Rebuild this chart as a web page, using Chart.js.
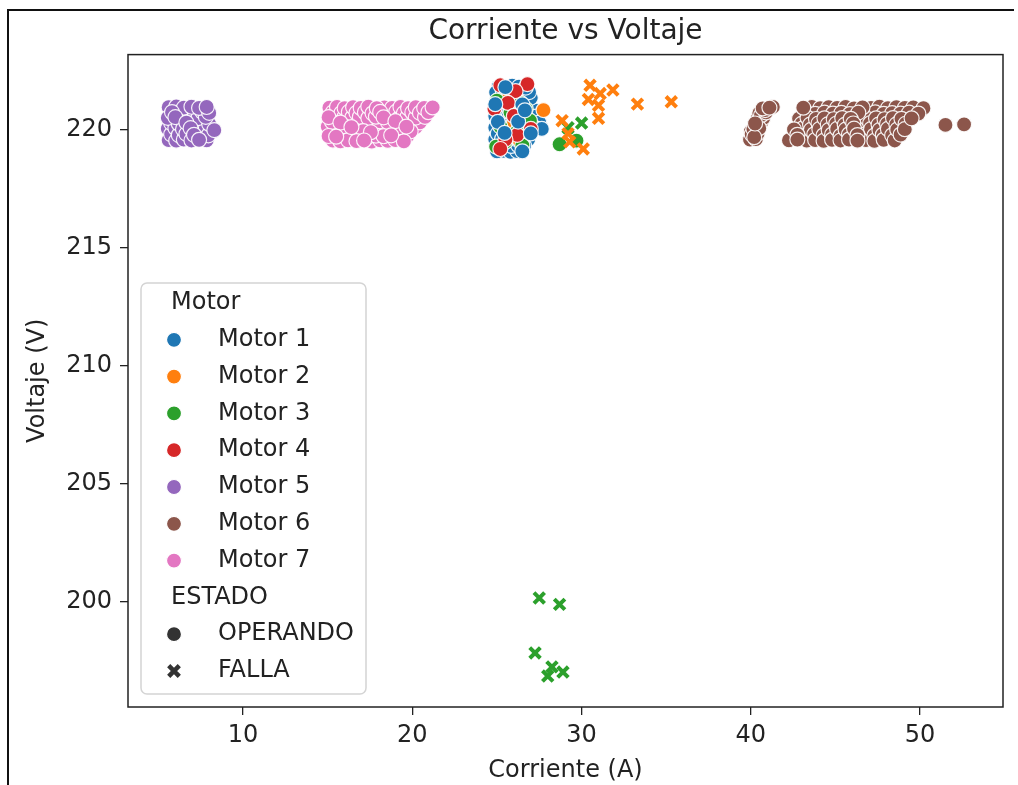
<!DOCTYPE html>
<html lang="es">
<head>
  <meta charset="UTF-8" />
  <title>Corriente vs Voltaje</title>
  <script src="https://cdn.jsdelivr.net/npm/chart.js"></script>
  <style>
    html, body { margin: 0; padding: 0; background: #fff; }
    #wrap { position: relative; width: 1018px; height: 785px; }
    #frame { position: absolute; left: 7px; top: 9px; width: 1005px; height: 790px;
             border-left: 2px solid #111; border-top: 2px solid #111; pointer-events: none; }
  </style>
</head>
<body>
<div id="wrap">
  <canvas id="chart"></canvas>
  <div id="frame"></div>
</div>

<script>
  // Tick labels
  const xTicks = [10, 20, 30, 40, 50];
  const yTicks = [200, 205, 210, 215, 220];

  // Motor names + tab10 colours
  const motors = ["Motor 1", "Motor 2", "Motor 3", "Motor 4", "Motor 5", "Motor 6", "Motor 7"];
  const colors = ["#1f77b4", "#ff7f0e", "#2ca02c", "#d62728", "#9467bd", "#8c564b", "#e377c2"];
  const estados = ["OPERANDO", "FALLA"];

  // [corriente, voltaje]
  const motor1Op = [
    [25.1,221.85],[25.5,221.82],[25.9,221.88],[26.3,221.84],[26.7,221.8],
    [24.95,221.6],[25.35,221.63],[25.75,221.57],[26.15,221.62],[26.55,221.58],[26.9,221.61],
    [25.1,221.35],[25.5,221.38],[25.9,221.32],[26.3,221.36],[26.7,221.33],[27.0,221.37],
    [24.9,221.1],[25.3,221.12],[25.7,221.08],[26.1,221.13],[26.5,221.09],[26.9,221.11],
    [25.05,220.85],[25.45,220.88],[25.85,220.83],[26.25,220.87],[26.65,220.84],[27.05,220.86],[27.35,220.82],
    [24.9,220.6],[25.3,220.62],[25.7,220.58],[26.1,220.63],[26.5,220.59],[26.9,220.61],[27.3,220.57],
    [25.05,220.35],[25.45,220.38],[25.85,220.33],[26.25,220.36],[26.65,220.34],[27.05,220.37],[27.5,220.32],
    [24.9,220.1],[25.3,220.12],[25.7,220.08],[26.1,220.13],[26.5,220.09],[26.9,220.11],[27.3,220.07],[27.65,220.05],
    [25.05,219.85],[25.45,219.88],[25.85,219.83],[26.25,219.87],[26.65,219.84],[27.0,219.86],
    [24.9,219.6],[25.3,219.62],[25.7,219.58],[26.1,219.63],[26.5,219.59],[26.85,219.61],
    [25.05,219.35],[25.45,219.38],[25.85,219.33],[26.25,219.36],[26.6,219.34],
    [25.0,219.1],[25.4,219.12],[25.8,219.08],[26.2,219.11],[26.5,219.1]
  ];
  const motor2Op = [
    [27.75,220.85],[26.0,220.3],[25.6,221.3],[26.3,219.6]
  ];
  const motor3Op = [
    [25.8,220.75],[26.7,220.9],[25.2,220.15],[26.95,220.4],[25.5,219.5],[24.95,219.3],
    [26.4,221.15],[25.0,221.25],[26.2,219.95],[26.5,219.35],
    [28.7,219.4],[29.7,219.55]
  ];
  const motor4Op = [
    [25.2,221.9],[26.8,221.95],[26.1,221.65],[25.65,221.15],[24.85,220.9],
    [26.2,219.8],[25.5,219.6],[27.0,220.05],[25.2,219.2],[26.0,220.6]
  ];
  const motor5Op = [
    [5.6,220.97],[6.05,221.0],[6.5,220.95],[6.95,220.99],[7.4,220.94],[7.85,220.98],
    [5.8,220.76],[6.25,220.72],[6.7,220.78],[7.15,220.74],[7.6,220.77],[8.0,220.73],
    [5.55,220.52],[6.0,220.55],[6.45,220.5],[6.9,220.54],[7.35,220.51],[7.8,220.56],
    [5.75,220.3],[6.2,220.27],[6.65,220.32],[7.1,220.29],[7.55,220.31],[8.0,220.26],
    [5.55,220.06],[6.0,220.09],[6.45,220.04],[6.9,220.08],[7.35,220.05],[7.8,220.07],[8.3,220.0],
    [5.75,219.82],[6.2,219.79],[6.65,219.84],[7.1,219.8],[7.55,219.83],[7.95,219.78],
    [5.6,219.58],[6.05,219.55],[6.5,219.6],[6.95,219.56],[7.4,219.59],[7.85,219.57]
  ];
  const motor6Op = [
    [39.95,219.6],[40.3,219.62],[40.05,219.82],[40.4,219.85],[40.15,220.05],[40.5,220.08],
    [40.25,220.28],[40.6,220.3],[40.4,220.5],[40.75,220.52],[40.5,220.72],[40.9,220.75],
    [40.7,220.92],[41.1,220.95],[41.3,220.98],[40.0,219.95],[40.35,220.2],[40.6,220.62],
    [40.85,220.85],[40.2,219.7],
    [43.1,220.95],[43.6,220.98],[44.1,220.93],[44.6,220.97],[45.1,220.94],[45.6,220.98],[46.1,220.92],
    [46.6,220.96],[47.1,220.94],[47.6,220.99],[48.1,220.93],[48.6,220.97],[49.1,220.94],[49.6,220.96],[50.2,220.93],
    [43.3,220.72],[43.8,220.69],[44.35,220.74],[44.85,220.7],[45.35,220.73],[45.85,220.68],[46.35,220.74],
    [46.85,220.71],[47.35,220.75],[47.85,220.69],[48.35,220.72],[48.85,220.7],[49.35,220.74],[49.9,220.7],
    [42.85,220.49],[43.35,220.52],[43.85,220.47],[44.35,220.5],[44.9,220.46],[45.4,220.51],[45.9,220.48],
    [46.4,220.52],[46.9,220.47],[47.4,220.5],[47.9,220.46],[48.4,220.51],[48.9,220.48],[49.5,220.5],
    [43.0,220.26],[43.5,220.23],[44.0,220.28],[44.55,220.24],[45.05,220.27],[45.55,220.22],[46.05,220.28],
    [46.55,220.25],[47.05,220.29],[47.55,220.23],[48.05,220.26],[48.6,220.24],[49.15,220.27],
    [42.55,220.03],[43.05,220.06],[43.55,220.01],[44.05,220.04],[44.6,220.0],[45.1,220.05],[45.6,220.02],
    [46.1,220.06],[46.6,220.01],[47.1,220.04],[47.6,220.0],[48.1,220.05],[48.65,220.02],[49.1,220.04],
    [42.75,219.8],[43.25,219.77],[43.75,219.82],[44.3,219.78],[44.8,219.81],[45.3,219.76],[45.8,219.82],
    [46.3,219.79],[46.8,219.83],[47.3,219.77],[47.8,219.8],[48.35,219.78],[48.85,219.81],
    [42.25,219.57],[42.75,219.6],[43.3,219.55],[43.8,219.58],[44.3,219.54],[44.8,219.59],[45.3,219.56],
    [45.8,219.6],[46.3,219.55],[46.8,219.58],[47.3,219.54],[47.85,219.59],[48.5,219.56],
    [51.5,220.22],[52.6,220.24]
  ];
  const motor7Op = [
    [15.1,220.95],[15.55,220.98],[16.0,220.93],[16.5,220.97],[16.95,220.94],[17.4,220.99],[17.9,220.93],
    [18.35,220.96],[18.8,220.94],[19.3,220.98],[19.75,220.93],[20.2,220.97],[20.7,220.94],[21.2,220.96],
    [15.3,220.75],[15.8,220.72],[16.25,220.77],[16.7,220.73],[17.2,220.76],[17.65,220.71],[18.1,220.77],
    [18.6,220.74],[19.05,220.78],[19.5,220.72],[20.0,220.75],[20.45,220.73],[20.95,220.76],
    [15.05,220.55],[15.5,220.52],[16.0,220.57],[16.45,220.53],[16.9,220.56],[17.4,220.51],[17.85,220.57],
    [18.3,220.54],[18.8,220.58],[19.25,220.52],[19.7,220.55],[20.2,220.53],[20.75,220.56],
    [15.25,220.35],[15.75,220.32],[16.2,220.37],[16.65,220.33],[17.15,220.36],[17.6,220.31],[18.05,220.37],
    [18.55,220.34],[19.0,220.38],[19.45,220.32],[19.95,220.35],[20.45,220.33],
    [15.0,220.15],[15.45,220.12],[15.95,220.17],[16.4,220.13],[16.85,220.16],[17.35,220.11],[17.8,220.17],
    [18.25,220.14],[18.75,220.18],[19.2,220.12],[19.65,220.15],[20.2,220.13],
    [15.2,219.95],[15.7,219.92],[16.15,219.97],[16.6,219.93],[17.1,219.96],[17.55,219.91],[18.0,219.97],
    [18.5,219.94],[18.95,219.98],[19.4,219.92],[19.9,219.95],
    [15.05,219.75],[15.5,219.72],[15.95,219.77],[16.45,219.73],[16.9,219.76],[17.35,219.71],[17.85,219.77],
    [18.3,219.74],[18.75,219.78],[19.25,219.72],[19.7,219.75],
    [15.3,219.55],[15.75,219.52],[16.2,219.57],[16.7,219.53],[17.15,219.56],[17.6,219.51],[18.1,219.57],
    [18.55,219.54],[19.0,219.58],[19.5,219.52]
  ];
  const motor2Falla = [
    [30.5,221.9],[31.85,221.7],[31.1,221.55],[30.4,221.3],[31.0,221.05],[33.3,221.1],
    [35.3,221.2],[31.0,220.5],[28.85,220.4],[29.3,219.5],[30.1,219.2],[29.2,219.85]
  ];
  const motor3Falla = [
    [29.2,220.1],[30.0,220.3],
    [27.5,200.17],[28.7,199.9],[27.25,197.84],[28.25,197.25],[28.0,196.86],[28.9,197.03]
  ];

  Chart.defaults.font.family = "'DejaVu Sans', sans-serif";
  Chart.defaults.color = "#222";

  // draw dense clouds in a spread-out order (seaborn plots rows unsorted)
  function mix(list) {
    const out = [];
    for (let s = 0; s < 7; s++) {
      for (let i = s; i < list.length; i += 7) out.push(list[i]);
    }
    return out;
  }
  const pts = list => list.map(p => ({ x: p[0], y: p[1] }));

  function opSet(i, list, order) {
    return {
      label: motors[i] + " " + estados[0], data: pts(list), order: order,
      pointStyle: "circle", pointRadius: 7.5, pointHoverRadius: 7.5,
      backgroundColor: colors[i], borderColor: "rgba(255,255,255,0.9)", borderWidth: 1.2
    };
  }
  function fallaSet(i, list, order) {
    return {
      label: motors[i] + " " + estados[1], data: pts(list), order: order,
      pointStyle: "crossRot", pointRadius: 7.5, pointHoverRadius: 7.5,
      backgroundColor: colors[i], borderColor: colors[i], borderWidth: 4
    };
  }

  // Motor 1 is drawn in two layers so the other motors in its cloud show through
  const motor1Mixed = mix(motor1Op);
  const motor1Under = motor1Mixed.filter((p, i) => i % 8 !== 3);
  const motor1Over = motor1Mixed.filter((p, i) => i % 8 === 3);

  // axes frame (all four spines)
  const spines = {
    id: "spines",
    afterDatasetsDraw(chart) {
      const { ctx, chartArea: a } = chart;
      ctx.save();
      ctx.strokeStyle = "#222";
      ctx.lineWidth = 1.5;
      ctx.strokeRect(a.left, a.top, a.right - a.left, a.bottom - a.top);
      ctx.restore();
    }
  };

  // seaborn style legend with two sub-titled groups
  const legendBox = {
    id: "legendBox",
    afterDraw(chart) {
      const { ctx, chartArea: a } = chart;
      const w = 225, h = 411, rowH = 36.8, r = 6;
      const left = a.left + 13, top = a.bottom - 13 - h;
      ctx.save();
      ctx.beginPath();
      ctx.moveTo(left + r, top);
      ctx.arcTo(left + w, top, left + w, top + h, r);
      ctx.arcTo(left + w, top + h, left, top + h, r);
      ctx.arcTo(left, top + h, left, top, r);
      ctx.arcTo(left, top, left + w, top, r);
      ctx.closePath();
      ctx.fillStyle = "rgba(255,255,255,0.8)";
      ctx.fill();
      ctx.strokeStyle = "#d4d4d4";
      ctx.lineWidth = 1.5;
      ctx.stroke();

      ctx.font = "24px 'DejaVu Sans'";
      ctx.textBaseline = "middle";
      ctx.textAlign = "left";
      const mx = left + 33, tx = left + 77, hx = left + 30;
      const rowY = i => top + 20 + i * rowH;

      const dot = (x, y, c) => {
        ctx.beginPath();
        ctx.arc(x, y, 7.5, 0, Math.PI * 2);
        ctx.fillStyle = c; ctx.fill();
        ctx.strokeStyle = "#fff"; ctx.lineWidth = 1.2; ctx.stroke();
      };

      ctx.fillStyle = "#222";
      ctx.fillText("Motor", hx, rowY(0));
      motors.forEach((m, i) => {
        dot(mx, rowY(i + 1), colors[i]);
        ctx.fillStyle = "#222";
        ctx.fillText(m, tx, rowY(i + 1));
      });
      ctx.fillStyle = "#222";
      ctx.fillText("ESTADO", hx, rowY(8));
      dot(mx, rowY(9), "#333");
      ctx.fillStyle = "#222";
      ctx.fillText(estados[0], tx, rowY(9));
      // filled X marker
      const y = rowY(10), d = 5.3;
      ctx.beginPath();
      ctx.moveTo(mx - d, y - d); ctx.lineTo(mx + d, y + d);
      ctx.moveTo(mx + d, y - d); ctx.lineTo(mx - d, y + d);
      ctx.strokeStyle = "#333"; ctx.lineWidth = 4.5; ctx.stroke();
      ctx.fillStyle = "#222";
      ctx.fillText(estados[1], tx, y);
      ctx.restore();
    }
  };

  new Chart(document.getElementById("chart"), {
    type: "scatter",
    data: {
      datasets: [
        fallaSet(1, motor2Falla, 1),
        fallaSet(2, motor3Falla, 2),
        opSet(6, mix(motor7Op), 3),
        opSet(5, mix(motor6Op), 4),
        opSet(4, mix(motor5Op), 5),
        opSet(0, motor1Over, 6),
        opSet(3, motor4Op, 7),
        opSet(2, motor3Op, 8),
        opSet(1, motor2Op, 9),
        opSet(0, motor1Under, 10)
      ]
    },
    options: {
      responsive: true,
      maintainAspectRatio: false,
      animation: false,
      events: [],
      layout: { padding: { left: 0, right: 15, top: 0, bottom: 0 } },
      plugins: {
        legend: { display: false },
        tooltip: { enabled: false },
        title: {
          display: true,
          text: "Corriente vs Voltaje",
          fullSize: false,
          color: "#222",
          font: { size: 28, weight: "normal" },
          padding: { top: 15, bottom: 6 }
        }
      },
      scales: {
        x: {
          type: "linear",
          min: 3.2,
          max: 54.9,
          afterBuildTicks: s => { s.ticks = xTicks.map(v => ({ value: v })); },
          afterFit: s => { s.height = 78; },
          border: { display: false },
          grid: { drawOnChartArea: false, drawTicks: true, tickLength: 8, color: "#222", lineWidth: 1.3 },
          ticks: { padding: 6, color: "#222", font: { size: 24 }, maxRotation: 0 },
          title: { display: true, text: "Corriente (A)", color: "#222", font: { size: 24 }, padding: { top: 0, bottom: 0 } }
        },
        y: {
          type: "linear",
          min: 195.55,
          max: 223.2,
          afterBuildTicks: s => { s.ticks = yTicks.map(v => ({ value: v })); },
          afterFit: s => { s.width = 128; },
          border: { display: false },
          grid: { drawOnChartArea: false, drawTicks: true, tickLength: 8, color: "#222", lineWidth: 1.3 },
          ticks: { padding: 8, color: "#222", font: { size: 24 } },
          title: { display: true, text: "Voltaje (V)", color: "#222", font: { size: 24 }, padding: { top: 23, bottom: 0 } }
        }
      }
    },
    plugins: [spines, legendBox]
  });
</script>
</body>
</html>
